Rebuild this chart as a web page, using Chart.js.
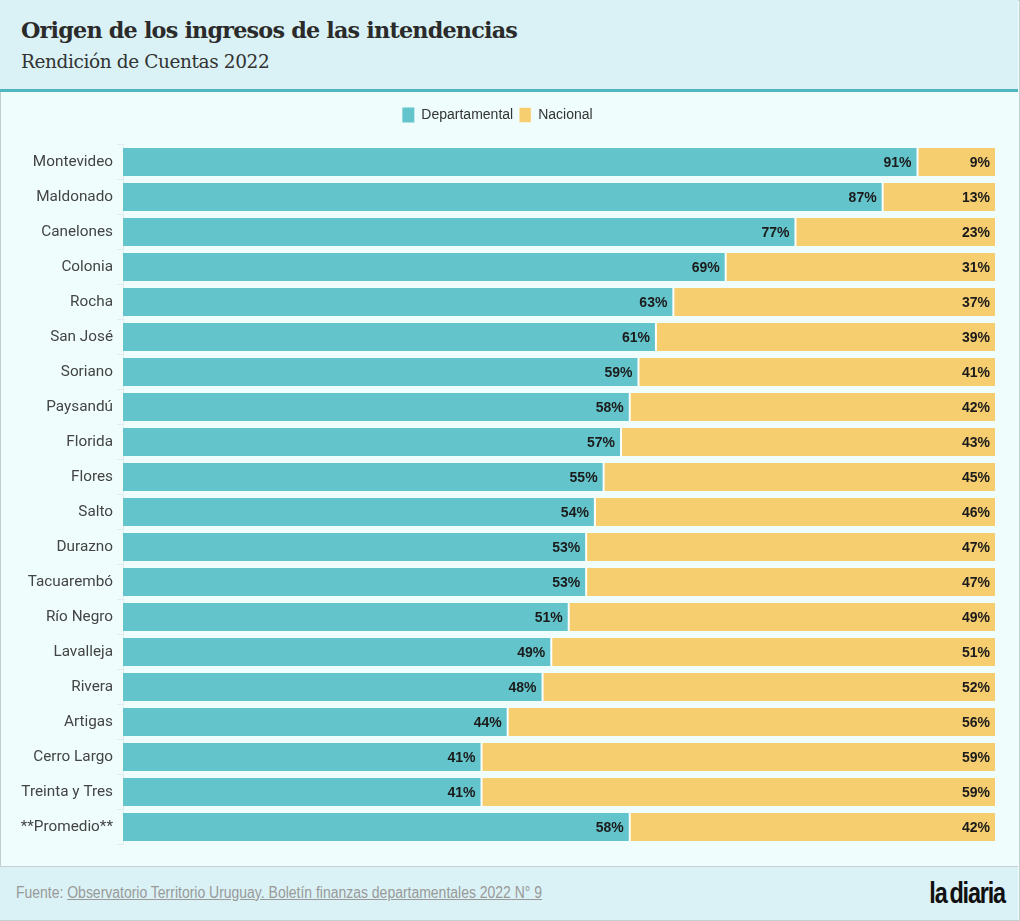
<!DOCTYPE html>
<html>
<head>
<meta charset="utf-8">
<script src="https://cdn.jsdelivr.net/npm/chart.js@4/dist/chart.umd.min.js"></script>
<style>
  html, body { margin: 0; padding: 0; }
  body { width: 1020px; height: 921px; position: relative; background: #effdfd; overflow: hidden; }
  #frame { position: absolute; left: 0; top: 0; width: 1018px; height: 919px; border: 1px solid #c5cfd1; }
  #header { position: absolute; left: 0; top: 0; width: 1018px; height: 89px; background: #daf2f5; border-bottom: 3px solid #4fb7bf; }
  #title { position: absolute; left: 21px; top: 17px; font-family: "DejaVu Serif", serif; font-weight: bold; font-size: 22.3px; color: #2b2b2b; letter-spacing: -0.8px; }
  #subtitle { position: absolute; left: 21px; top: 51px; font-family: "DejaVu Serif", serif; font-size: 18.5px; color: #333; letter-spacing: -0.4px; }
  #chartBox { position: absolute; left: 0; top: 92px; width: 1018px; height: 774px; }
  #footer { position: absolute; left: 0; top: 866px; width: 1018px; height: 53px; background: #daf2f5; border-top: 1px solid #c5cfd1; }
  #source { position: absolute; left: 16px; top: 17px; font-family: "Liberation Sans", sans-serif; font-size: 16px; color: #999; white-space: nowrap; transform: scaleX(0.873); transform-origin: left center; }
  #source a { color: #999; text-decoration: underline; }
  #logo { position: absolute; right: 13px; top: 9px; font-family: "Liberation Sans", sans-serif; font-weight: bold; font-size: 30px; color: #111; letter-spacing: -1.5px; word-spacing: -3px; white-space: nowrap; transform: scaleX(0.78); transform-origin: right center; }
</style>
</head>
<body>
<div id="frame"></div>
<div id="header">
  <div id="title">Origen de los ingresos de las intendencias</div>
  <div id="subtitle">Rendición de Cuentas 2022</div>
</div>
<div id="chartBox"><canvas id="chart"></canvas></div>
<div id="footer">
  <div id="source">Fuente: <a>Observatorio Territorio Uruguay. Boletín finanzas departamentales 2022 N° 9</a></div>
  <div id="logo">la diaria</div>
</div>
<script>
const departamentos = ['Montevideo', 'Maldonado', 'Canelones', 'Colonia', 'Rocha', 'San José', 'Soriano',
  'Paysandú', 'Florida', 'Flores', 'Salto', 'Durazno', 'Tacuarembó', 'Río Negro', 'Lavalleja', 'Rivera',
  'Artigas', 'Cerro Largo', 'Treinta y Tres', '**Promedio**'];
const departamental = [91, 87, 77, 69, 63, 61, 59, 58, 57, 55, 54, 53, 53, 51, 49, 48, 44, 41, 41, 58];
const nacional = [9, 13, 23, 31, 37, 39, 41, 42, 43, 45, 46, 47, 47, 49, 51, 52, 56, 59, 59, 42];

// labels at the end of each segment, right aligned
const barLabels = {
  id: 'barLabels',
  afterInit(chart) {
    // give the legend a fixed height so the bars start where they should
    const legend = chart.legend;
    const fit = legend.fit;
    legend.fit = function () { fit.call(this); this.height = 43; };
  },
  afterDatasetsDraw(chart) {
    const ctx = chart.ctx;
    ctx.save();
    ctx.font = 'bold 14px "Liberation Sans", Arial, sans-serif';
    ctx.fillStyle = '#1b1b1b';
    ctx.textAlign = 'right';
    ctx.textBaseline = 'middle';
    chart.data.datasets.forEach((ds, i) => {
      chart.getDatasetMeta(i).data.forEach((bar, j) => {
        ctx.fillText(ds.data[j] + '%', bar.x - 5, bar.y + 1);
      });
    });
    ctx.restore();
  }
};

new Chart(document.getElementById('chart'), {
  type: 'bar',
  data: {
    labels: departamentos,
    datasets: [
      {
        label: 'Departamental',
        data: departamental,
        backgroundColor: '#64c4cb',
        borderWidth: 0
      },
      {
        label: 'Nacional',
        data: nacional,
        backgroundColor: '#f6ce70',
        borderColor: '#ffffff',
        borderWidth: { left: 2, right: 0, top: 0, bottom: 0 },
        borderSkipped: false
      }
    ]
  },
  options: {
    indexAxis: 'y',
    responsive: true,
    maintainAspectRatio: false,
    animation: false,
    layout: { padding: { top: 9.5, right: 23, bottom: 21.5, left: 0 } },
    datasets: { bar: { barPercentage: 0.8, categoryPercentage: 1 } },
    plugins: {
      legend: {
        position: 'top',
        labels: {
          boxWidth: 12,
          boxHeight: 15,
          padding: 6,
          color: '#333',
          font: { family: '"Liberation Sans", Arial, sans-serif', size: 14 }
        }
      },
      tooltip: { enabled: false }
    },
    scales: {
      x: {
        stacked: true,
        min: 0,
        max: 100,
        display: false
      },
      y: {
        stacked: true,
        afterFit(scale) { scale.width = 123; },
        grid: { drawOnChartArea: false, tickLength: 6, color: '#e3ecec' },
        border: { color: '#e3ecec' },
        ticks: {
          padding: 4,
          color: '#444',
          font: { family: 'Roboto, sans-serif', size: 15.3 }
        }
      }
    }
  },
  plugins: [barLabels]
});
</script>
</body>
</html>
